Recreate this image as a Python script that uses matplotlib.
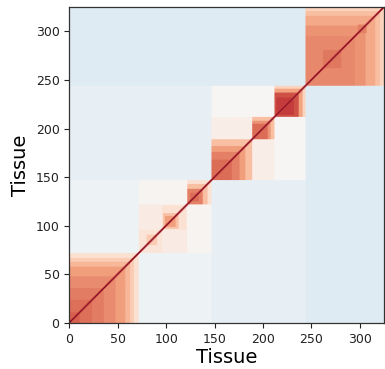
import numpy as np
import matplotlib
matplotlib.use("Agg")
import matplotlib.pyplot as plt

# Tissue groups along the ordered axis (group edges)
n_tissues = 325
group_edges = [0, 72, 147, 244, 325]

# Mean correlation between different groups (upper triangle of group pairs)
between_groups = {
    (0, 1): -0.05,
    (0, 2): -0.085,
    (1, 2): -0.085,
    (0, 3): -0.13,
    (1, 3): -0.13,
    (2, 3): -0.13,
}

# Nested clusters inside each group: (start, end, correlation), outer to inner
clusters_a = [(0, 72, 0.15), (0, 67, 0.25), (0, 63, 0.33), (0, 58, 0.42),
              (0, 48, 0.47), (0, 36, 0.51), (0, 24, 0.55), (0, 11, 0.6)]
clusters_b = [(72, 147, 0.03), (72, 122, 0.08), (72, 96, 0.13), (80, 91, 0.25),
              (96, 121, 0.15), (97, 113, 0.3), (99, 110, 0.42),
              (122, 147, 0.15), (122, 143, 0.3), (122, 138, 0.5), (125, 134, 0.56)]
clusters_c = [(147, 244, 0.01), (147, 212, 0.07),
              (147, 189, 0.3), (147, 182, 0.42), (147, 176, 0.5), (147, 168, 0.56),
              (189, 212, 0.3), (189, 208, 0.45), (189, 205, 0.56),
              (212, 244, 0.22), (212, 241, 0.4), (212, 237, 0.64), (214, 232, 0.7)]
clusters_d = [(244, 325, 0.22), (244, 321, 0.3), (244, 316, 0.38), (244, 306, 0.45),
              (244, 295, 0.48), (262, 281, 0.53), (298, 307, 0.5)]

# Correlation between neighbouring tissues in the ordering
neighbor_corr = 0.72

# Assemble the correlation matrix
corr = np.zeros((n_tissues, n_tissues))
for (gi, gj), val in between_groups.items():
    a0, a1 = group_edges[gi], group_edges[gi + 1]
    b0, b1 = group_edges[gj], group_edges[gj + 1]
    corr[a0:a1, b0:b1] = val
    corr[b0:b1, a0:a1] = val
for s, e, val in clusters_a + clusters_b + clusters_c + clusters_d:
    corr[s:e, s:e] = val
idx = np.arange(n_tissues - 1)
corr[idx, idx + 1] = neighbor_corr
corr[idx + 1, idx] = neighbor_corr
np.fill_diagonal(corr, 1.0)

fig = plt.figure(figsize=(3.85, 3.69), dpi=100)
ax = fig.add_axes([0.18, 0.1247, 0.8174, 0.8563])
ax.imshow(corr, cmap="RdBu_r", vmin=-1, vmax=1, origin="lower",
          extent=(0, n_tissues, 0, n_tissues), aspect="auto",
          interpolation="bilinear", interpolation_stage="rgba")
ax.set_xlim(0, n_tissues)
ax.set_ylim(0, n_tissues)
ax.set_xticks([0, 50, 100, 150, 200, 250, 300])
ax.set_yticks([0, 50, 100, 150, 200, 250, 300])
ax.tick_params(labelsize=9, length=3.5, width=0.8, colors="#222222")
ax.set_xlabel("Tissue", fontsize=14, labelpad=2)
ax.set_ylabel("Tissue", fontsize=14, labelpad=4)
for sp in ax.spines.values():
    sp.set_color("#333333")
    sp.set_linewidth(0.9)

fig.savefig("out.png", dpi=100)
